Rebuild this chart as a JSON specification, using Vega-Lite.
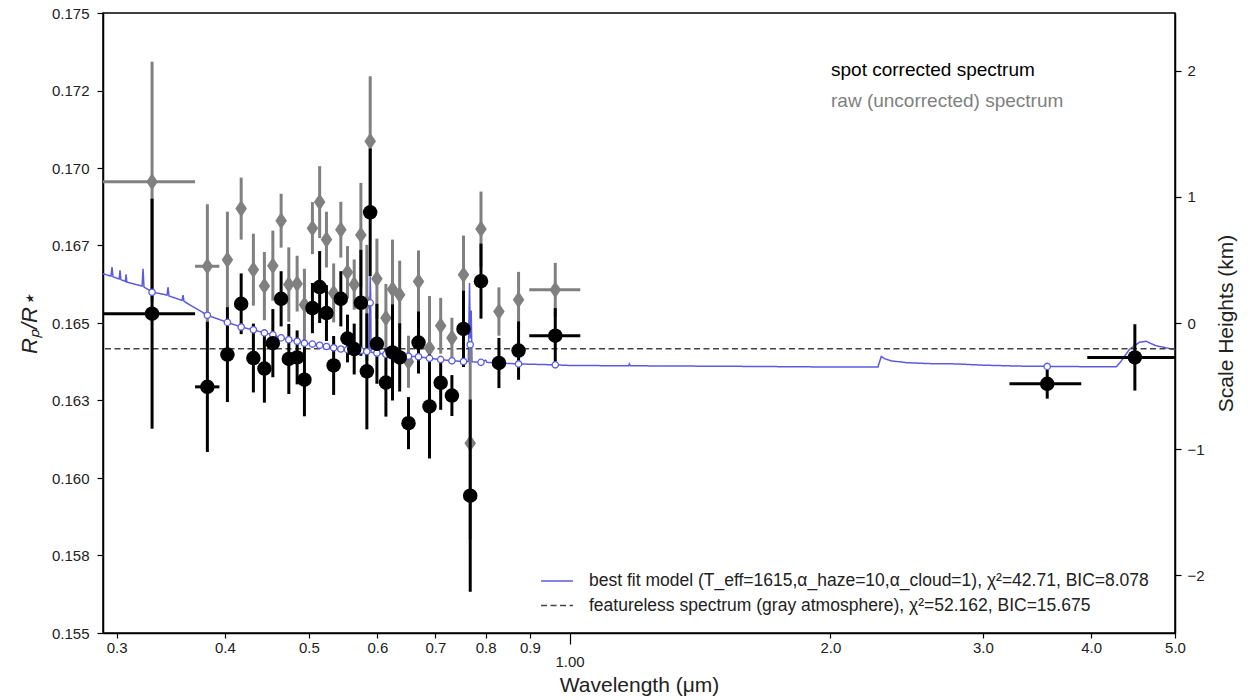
{
  "$schema": "https://vega.github.io/schema/vega-lite/v6.json",
  "width": 1072,
  "height": 620,
  "autosize": {"type": "none"},
  "padding": {"left": 103, "top": 13, "right": 76, "bottom": 67},
  "background": "white",
  "config": {
    "font": "Liberation Sans",
    "view": {"stroke": "black", "strokeWidth": 1.5},
    "axis": {"grid": false, "domainColor": "black", "domainWidth": 1.5, "tickColor": "black", "tickWidth": 1.2, "labelColor": "#222222", "labelFont": "Liberation Sans", "titleFont": "Liberation Sans", "titleFontWeight": "normal", "titleColor": "#222222"},
    "legend": {"labelFont": "Liberation Sans", "labelColor": "#222222", "labelLimit": 800}
  },
  "datasets": {
    "corr": [
      {"wl": 0.3296, "rp": 0.16530, "err": 0.00371},
      {"wl": 0.3818, "rp": 0.16294, "err": 0.0021},
      {"wl": 0.4027, "rp": 0.16398, "err": 0.00153},
      {"wl": 0.4177, "rp": 0.16562, "err": 0.00098},
      {"wl": 0.4315, "rp": 0.16387, "err": 0.00111},
      {"wl": 0.4443, "rp": 0.16353, "err": 0.0011},
      {"wl": 0.4544, "rp": 0.16435, "err": 0.0011},
      {"wl": 0.4645, "rp": 0.16578, "err": 0.00089},
      {"wl": 0.4741, "rp": 0.16384, "err": 0.00113},
      {"wl": 0.4847, "rp": 0.16389, "err": 0.00087},
      {"wl": 0.4942, "rp": 0.16317, "err": 0.00118},
      {"wl": 0.5048, "rp": 0.16548, "err": 0.00081},
      {"wl": 0.5146, "rp": 0.16616, "err": 0.00116},
      {"wl": 0.5240, "rp": 0.16532, "err": 0.0009},
      {"wl": 0.5341, "rp": 0.16363, "err": 0.00095},
      {"wl": 0.5444, "rp": 0.16578, "err": 0.00089},
      {"wl": 0.5541, "rp": 0.1645, "err": 0.00077},
      {"wl": 0.5641, "rp": 0.16416, "err": 0.00082},
      {"wl": 0.5742, "rp": 0.16565, "err": 0.00171},
      {"wl": 0.5834, "rp": 0.16344, "err": 0.00187},
      {"wl": 0.5886, "rp": 0.16857, "err": 0.00206},
      {"wl": 0.5992, "rp": 0.16433, "err": 0.00129},
      {"wl": 0.6137, "rp": 0.16308, "err": 0.0011},
      {"wl": 0.6246, "rp": 0.16405, "err": 0.00155},
      {"wl": 0.6366, "rp": 0.16389, "err": 0.0011},
      {"wl": 0.6517, "rp": 0.16177, "err": 0.00084},
      {"wl": 0.6693, "rp": 0.16437, "err": 0.001},
      {"wl": 0.6891, "rp": 0.16231, "err": 0.00168},
      {"wl": 0.7099, "rp": 0.16307, "err": 0.00087},
      {"wl": 0.7314, "rp": 0.16266, "err": 0.00066},
      {"wl": 0.7543, "rp": 0.16481, "err": 0.00123},
      {"wl": 0.7679, "rp": 0.15943, "err": 0.0031},
      {"wl": 0.7902, "rp": 0.16635, "err": 0.00121},
      {"wl": 0.8288, "rp": 0.16371, "err": 0.00081},
      {"wl": 0.8732, "rp": 0.16411, "err": 0.00094},
      {"wl": 0.9627, "rp": 0.16459, "err": 0.00089},
      {"wl": 3.560, "rp": 0.16304, "err": 0.00048},
      {"wl": 4.494, "rp": 0.16389, "err": 0.00107}
    ],
    "raw": [
      {"wl": 0.3296, "rp": 0.16956, "err": 0.00387},
      {"wl": 0.3818, "rp": 0.16683, "err": 0.0020},
      {"wl": 0.4027, "rp": 0.16704, "err": 0.00155},
      {"wl": 0.4177, "rp": 0.16869, "err": 0.0010},
      {"wl": 0.4315, "rp": 0.16672, "err": 0.00116},
      {"wl": 0.4443, "rp": 0.16619, "err": 0.0011},
      {"wl": 0.4544, "rp": 0.16685, "err": 0.00113},
      {"wl": 0.4645, "rp": 0.1683, "err": 0.00087},
      {"wl": 0.4741, "rp": 0.16624, "err": 0.0012},
      {"wl": 0.4847, "rp": 0.16627, "err": 0.0009},
      {"wl": 0.4942, "rp": 0.16559, "err": 0.00116},
      {"wl": 0.5048, "rp": 0.16806, "err": 0.00084},
      {"wl": 0.5146, "rp": 0.1689, "err": 0.00116},
      {"wl": 0.5240, "rp": 0.16769, "err": 0.0009},
      {"wl": 0.5341, "rp": 0.16597, "err": 0.00095},
      {"wl": 0.5444, "rp": 0.16801, "err": 0.0009},
      {"wl": 0.5541, "rp": 0.16664, "err": 0.00084},
      {"wl": 0.5641, "rp": 0.16624, "err": 0.00081},
      {"wl": 0.5742, "rp": 0.16784, "err": 0.00168},
      {"wl": 0.5834, "rp": 0.16565, "err": 0.00187},
      {"wl": 0.5886, "rp": 0.17086, "err": 0.0021},
      {"wl": 0.5992, "rp": 0.16643, "err": 0.00129},
      {"wl": 0.6137, "rp": 0.16516, "err": 0.0011},
      {"wl": 0.6246, "rp": 0.16609, "err": 0.0016},
      {"wl": 0.6366, "rp": 0.16591, "err": 0.0011},
      {"wl": 0.6517, "rp": 0.16375, "err": 0.00084},
      {"wl": 0.6693, "rp": 0.16634, "err": 0.001},
      {"wl": 0.6891, "rp": 0.16419, "err": 0.00168},
      {"wl": 0.7099, "rp": 0.16491, "err": 0.0009},
      {"wl": 0.7314, "rp": 0.16452, "err": 0.00065},
      {"wl": 0.7543, "rp": 0.16656, "err": 0.00126},
      {"wl": 0.7679, "rp": 0.16112, "err": 0.0031},
      {"wl": 0.7902, "rp": 0.16803, "err": 0.00121},
      {"wl": 0.8288, "rp": 0.16537, "err": 0.00078},
      {"wl": 0.8732, "rp": 0.16575, "err": 0.0009},
      {"wl": 0.9627, "rp": 0.16607, "err": 0.00087}
    ],
    "xerr_corr": [
      {"rp": 0.16530, "lo": 0.2893, "hi": 0.3695},
      {"rp": 0.16294, "lo": 0.3695, "hi": 0.3942},
      {"rp": 0.16459, "lo": 0.8984, "hi": 1.0289},
      {"rp": 0.16304, "lo": 3.220, "hi": 3.897},
      {"rp": 0.16389, "lo": 3.960, "hi": 5.0}
    ],
    "xerr_raw": [
      {"rp": 0.16956, "lo": 0.2893, "hi": 0.3695},
      {"rp": 0.16683, "lo": 0.3695, "hi": 0.3942},
      {"rp": 0.16607, "lo": 0.8984, "hi": 1.0289}
    ],
    "flat": [{"rp": 0.16417}],
    "binned": [
      {"wl": 0.3296, "m": 0.16599}, {"wl": 0.3818, "m": 0.16525}, {"wl": 0.4027, "m": 0.16502},
      {"wl": 0.4177, "m": 0.16487}, {"wl": 0.4315, "m": 0.16478}, {"wl": 0.4443, "m": 0.16468},
      {"wl": 0.4544, "m": 0.16462}, {"wl": 0.4645, "m": 0.16452}, {"wl": 0.4741, "m": 0.16446},
      {"wl": 0.4847, "m": 0.16441}, {"wl": 0.4942, "m": 0.16435}, {"wl": 0.5048, "m": 0.16432},
      {"wl": 0.5146, "m": 0.16428}, {"wl": 0.5240, "m": 0.16424}, {"wl": 0.5341, "m": 0.1642},
      {"wl": 0.5444, "m": 0.16416}, {"wl": 0.5541, "m": 0.16414}, {"wl": 0.5641, "m": 0.16412},
      {"wl": 0.5742, "m": 0.16411}, {"wl": 0.5834, "m": 0.16408}, {"wl": 0.5886, "m": 0.16565},
      {"wl": 0.5992, "m": 0.16403}, {"wl": 0.6137, "m": 0.16399}, {"wl": 0.6246, "m": 0.16397},
      {"wl": 0.6366, "m": 0.16395}, {"wl": 0.6517, "m": 0.16393}, {"wl": 0.6693, "m": 0.16391},
      {"wl": 0.6891, "m": 0.16386}, {"wl": 0.7099, "m": 0.16382}, {"wl": 0.7314, "m": 0.16378},
      {"wl": 0.7543, "m": 0.16376}, {"wl": 0.7679, "m": 0.1643}, {"wl": 0.7902, "m": 0.16373},
      {"wl": 0.8288, "m": 0.16371}, {"wl": 0.8732, "m": 0.16368}, {"wl": 0.9627, "m": 0.16365},
      {"wl": 3.560, "m": 0.1636}
    ],
    "model": [
      {"wl": 0.2893, "m": 0.16659},
      {"wl": 0.2955, "m": 0.16651}, {"wl": 0.2963, "m": 0.1668}, {"wl": 0.2971, "m": 0.16649},
      {"wl": 0.302, "m": 0.16642}, {"wl": 0.3027, "m": 0.1667}, {"wl": 0.3034, "m": 0.1664},
      {"wl": 0.307, "m": 0.16634}, {"wl": 0.3076, "m": 0.16657}, {"wl": 0.3082, "m": 0.16632},
      {"wl": 0.321, "m": 0.16619}, {"wl": 0.3218, "m": 0.16675}, {"wl": 0.3226, "m": 0.16616},
      {"wl": 0.3296, "m": 0.166},
      {"wl": 0.343, "m": 0.1659}, {"wl": 0.3439, "m": 0.16615}, {"wl": 0.3448, "m": 0.16587},
      {"wl": 0.357, "m": 0.16573}, {"wl": 0.3579, "m": 0.1659}, {"wl": 0.3588, "m": 0.1657},
      {"wl": 0.3818, "m": 0.16525}, {"wl": 0.4027, "m": 0.16502}, {"wl": 0.4177, "m": 0.16487},
      {"wl": 0.4315, "m": 0.16478}, {"wl": 0.4443, "m": 0.16468}, {"wl": 0.4544, "m": 0.16462},
      {"wl": 0.4645, "m": 0.16452}, {"wl": 0.4741, "m": 0.16446}, {"wl": 0.4847, "m": 0.16441},
      {"wl": 0.4942, "m": 0.16435}, {"wl": 0.5048, "m": 0.16432}, {"wl": 0.5146, "m": 0.16428},
      {"wl": 0.524, "m": 0.16424}, {"wl": 0.5341, "m": 0.1642}, {"wl": 0.5444, "m": 0.16416},
      {"wl": 0.5541, "m": 0.16414}, {"wl": 0.5641, "m": 0.16412}, {"wl": 0.5742, "m": 0.16411},
      {"wl": 0.5834, "m": 0.16408}, {"wl": 0.587, "m": 0.16407}, {"wl": 0.5886, "m": 0.1665},
      {"wl": 0.5893, "m": 0.166}, {"wl": 0.59, "m": 0.16406},
      {"wl": 0.5992, "m": 0.16403}, {"wl": 0.6137, "m": 0.16399}, {"wl": 0.6246, "m": 0.16397},
      {"wl": 0.6366, "m": 0.16395}, {"wl": 0.6517, "m": 0.16393}, {"wl": 0.6693, "m": 0.16391},
      {"wl": 0.6891, "m": 0.16386}, {"wl": 0.7099, "m": 0.16382}, {"wl": 0.7314, "m": 0.16378},
      {"wl": 0.7543, "m": 0.16376}, {"wl": 0.764, "m": 0.16376}, {"wl": 0.7665, "m": 0.16629},
      {"wl": 0.768, "m": 0.1645}, {"wl": 0.7699, "m": 0.1654}, {"wl": 0.7715, "m": 0.16375},
      {"wl": 0.7902, "m": 0.16373}, {"wl": 0.8, "m": 0.1638}, {"wl": 0.803, "m": 0.16373},
      {"wl": 0.8288, "m": 0.16371}, {"wl": 0.8732, "m": 0.16368}, {"wl": 0.9627, "m": 0.16365},
      {"wl": 1.0, "m": 0.16363}, {"wl": 1.17, "m": 0.16362}, {"wl": 1.172, "m": 0.16368}, {"wl": 1.175, "m": 0.16362},
      {"wl": 1.6, "m": 0.1636}, {"wl": 2.0, "m": 0.16358}, {"wl": 2.27, "m": 0.16358},
      {"wl": 2.29, "m": 0.16392}, {"wl": 2.31, "m": 0.16385}, {"wl": 2.35, "m": 0.16378},
      {"wl": 2.45, "m": 0.16372}, {"wl": 2.6, "m": 0.16369}, {"wl": 2.8, "m": 0.16368},
      {"wl": 3.0, "m": 0.16364}, {"wl": 3.3, "m": 0.16361}, {"wl": 3.56, "m": 0.1636},
      {"wl": 4.0, "m": 0.16359}, {"wl": 4.28, "m": 0.16359}, {"wl": 4.33, "m": 0.16376},
      {"wl": 4.43, "m": 0.16415}, {"wl": 4.55, "m": 0.16438}, {"wl": 4.63, "m": 0.16441},
      {"wl": 4.75, "m": 0.16427}, {"wl": 4.88, "m": 0.1642}, {"wl": 5.0, "m": 0.16414}
    ],
    "shaxis": [{"sh": -2.46}, {"sh": 2.46}]
  },
  "layer": [
    {
      "layer": [
        {
          "data": {"name": "model"},
          "mark": {"type": "line", "strokeWidth": 1.5, "clip": true},
          "encoding": {
            "x": {"field": "wl", "type": "quantitative", "title": "Wavelength (μm)", "scale": {"type": "log", "domain": [0.2893, 5.0], "nice": false},
              "axis": {"title": "Wavelength (μm)", "values": [0.3, 0.4, 0.5, 0.6, 0.7, 0.8, 0.9, 1, 2, 3, 4, 5],
                "labelExpr": "datum.value == 1 ? '1.00' : format(datum.value, '.1f')",
                "tickSize": {"condition": {"test": "datum.value == 1", "value": 11}, "value": 5},
                "labelPadding": {"condition": {"test": "datum.value == 1", "value": 10}, "value": 2},
                "labelFontSize": 15, "titleFontSize": 21, "titlePadding": 5, "labelFlush": false, "labelOverlap": false}},
            "y": {"field": "m", "type": "quantitative", "title": "Rₚ/R⋆", "scale": {"domain": [0.155, 0.175], "nice": false, "zero": false},
              "axis": {"title": "Rₚ/R⋆", "values": [0.155, 0.1575, 0.16, 0.1625, 0.165, 0.1675, 0.17, 0.1725, 0.175],
                "labelExpr": "['0.155','0.158','0.160','0.163','0.165','0.167','0.170','0.172','0.175'][round((datum.value - 0.155) / 0.0025)]",
                "tickSize": 6, "labelPadding": 8, "labelFontSize": 15, "titleFontSize": 22, "titleFontStyle": "italic", "titlePadding": 10}},
            "stroke": {"datum": "best fit model (T_eff=1615,α_haze=10,α_cloud=1), χ²=42.71, BIC=8.078", "type": "nominal",
              "scale": {"domain": ["best fit model (T_eff=1615,α_haze=10,α_cloud=1), χ²=42.71, BIC=8.078", "featureless spectrum (gray atmosphere), χ²=52.162, BIC=15.675"], "range": ["#5b5be0", "#444444"]},
              "legend": {"orient": "none", "legendX": 441, "legendY": 555, "title": null, "symbolType": "M-1.3,0L1.3,0", "symbolSize": 600, "symbolStrokeWidth": 1.5, "labelFontSize": 17.5, "labelOffset": 19, "rowPadding": 2.5}},
            "strokeDash": {"datum": "best fit model (T_eff=1615,α_haze=10,α_cloud=1), χ²=42.71, BIC=8.078", "type": "nominal",
              "scale": {"domain": ["best fit model (T_eff=1615,α_haze=10,α_cloud=1), χ²=42.71, BIC=8.078", "featureless spectrum (gray atmosphere), χ²=52.162, BIC=15.675"], "range": [[1, 0], [6, 3.5]]},
              "legend": {"orient": "none", "legendX": 441, "legendY": 555, "title": null, "symbolType": "M-1.3,0L1.3,0", "symbolSize": 600, "symbolStrokeWidth": 1.5, "labelFontSize": 17.5, "labelOffset": 19, "rowPadding": 2.5}}
          }
        },
        {
          "data": {"name": "flat"},
          "mark": {"type": "rule", "strokeWidth": 1.3},
          "encoding": {
            "y": {"field": "rp", "type": "quantitative", "title": "Rₚ/R⋆", "scale": {"domain": [0.155, 0.175], "nice": false, "zero": false}},
            "stroke": {"datum": "featureless spectrum (gray atmosphere), χ²=52.162, BIC=15.675", "type": "nominal"},
            "strokeDash": {"datum": "featureless spectrum (gray atmosphere), χ²=52.162, BIC=15.675", "type": "nominal"}
          }
        },
        {
          "data": {"name": "raw"},
          "mark": {"type": "errorbar", "color": "#808080", "thickness": 3},
          "encoding": {
            "x": {"field": "wl", "type": "quantitative", "title": "Wavelength (μm)", "scale": {"type": "log", "domain": [0.2893, 5.0], "nice": false}},
            "y": {"field": "rp", "type": "quantitative", "title": "Rₚ/R⋆", "scale": {"domain": [0.155, 0.175], "nice": false, "zero": false}},
            "yError": {"field": "err"}
          }
        },
        {
          "data": {"name": "xerr_raw"},
          "mark": {"type": "rule", "color": "#808080", "strokeWidth": 3},
          "encoding": {
            "x": {"field": "lo", "type": "quantitative", "title": "Wavelength (μm)", "scale": {"type": "log", "domain": [0.2893, 5.0], "nice": false}},
            "x2": {"field": "hi"},
            "y": {"field": "rp", "type": "quantitative", "title": "Rₚ/R⋆", "scale": {"domain": [0.155, 0.175], "nice": false, "zero": false}}
          }
        },
        {
          "data": {"name": "raw"},
          "mark": {"type": "point", "filled": true, "shape": "M0,-1L0.68,0L0,1L-0.68,0Z", "size": 290, "opacity": 1, "strokeWidth": 0},
          "encoding": {
            "x": {"field": "wl", "type": "quantitative", "title": "Wavelength (μm)", "scale": {"type": "log", "domain": [0.2893, 5.0], "nice": false}},
            "y": {"field": "rp", "type": "quantitative", "title": "Rₚ/R⋆", "scale": {"domain": [0.155, 0.175], "nice": false, "zero": false}},
            "fill": {"datum": "raw (uncorrected) spectrum", "type": "nominal",
              "scale": {"domain": ["spot corrected spectrum", "raw (uncorrected) spectrum"], "range": ["#000000", "#808080"]},
              "legend": {"orient": "none", "legendX": 709, "legendY": 47, "title": null, "symbolOpacity": 0, "symbolSize": 0, "labelOffset": 0, "labelFontSize": 19, "rowPadding": 11,
                "encode": {"labels": {"update": {"fill": {"signal": "datum.value === 'raw (uncorrected) spectrum' ? '#808080' : '#000000'"}}}}}}
          }
        },
        {
          "data": {"name": "corr"},
          "mark": {"type": "errorbar", "color": "#000000", "thickness": 3},
          "encoding": {
            "x": {"field": "wl", "type": "quantitative", "title": "Wavelength (μm)", "scale": {"type": "log", "domain": [0.2893, 5.0], "nice": false}},
            "y": {"field": "rp", "type": "quantitative", "title": "Rₚ/R⋆", "scale": {"domain": [0.155, 0.175], "nice": false, "zero": false}},
            "yError": {"field": "err"}
          }
        },
        {
          "data": {"name": "xerr_corr"},
          "mark": {"type": "rule", "color": "#000000", "strokeWidth": 3},
          "encoding": {
            "x": {"field": "lo", "type": "quantitative", "title": "Wavelength (μm)", "scale": {"type": "log", "domain": [0.2893, 5.0], "nice": false}},
            "x2": {"field": "hi"},
            "y": {"field": "rp", "type": "quantitative", "title": "Rₚ/R⋆", "scale": {"domain": [0.155, 0.175], "nice": false, "zero": false}}
          }
        },
        {
          "data": {"name": "binned"},
          "mark": {"type": "point", "shape": "circle", "filled": true, "fill": "white", "stroke": "#5b5be0", "strokeWidth": 1.3, "size": 40, "opacity": 1},
          "encoding": {
            "x": {"field": "wl", "type": "quantitative", "title": "Wavelength (μm)", "scale": {"type": "log", "domain": [0.2893, 5.0], "nice": false}},
            "y": {"field": "m", "type": "quantitative", "title": "Rₚ/R⋆", "scale": {"domain": [0.155, 0.175], "nice": false, "zero": false}}
          }
        },
        {
          "data": {"name": "corr"},
          "mark": {"type": "point", "filled": true, "shape": "circle", "size": 210, "opacity": 1, "strokeWidth": 0},
          "encoding": {
            "x": {"field": "wl", "type": "quantitative", "title": "Wavelength (μm)", "scale": {"type": "log", "domain": [0.2893, 5.0], "nice": false}},
            "y": {"field": "rp", "type": "quantitative", "title": "Rₚ/R⋆", "scale": {"domain": [0.155, 0.175], "nice": false, "zero": false}},
            "fill": {"datum": "spot corrected spectrum", "type": "nominal"}
          }
        }
      ]
    },
    {
      "data": {"name": "shaxis"},
      "mark": {"type": "point", "opacity": 0},
      "encoding": {
        "y": {"field": "sh", "type": "quantitative", "scale": {"domain": [-2.46, 2.46], "nice": false, "zero": false},
          "axis": {"orient": "right", "title": "Scale Heights (km)", "values": [-2, -1, 0, 1, 2], "format": "d", "tickSize": 6, "labelPadding": 6, "labelFontSize": 15, "titleFontSize": 21, "titleAngle": 270, "titlePadding": 32}}
      }
    }
  ],
  "resolve": {"scale": {"y": "independent"}, "axis": {"y": "independent"}}
}
